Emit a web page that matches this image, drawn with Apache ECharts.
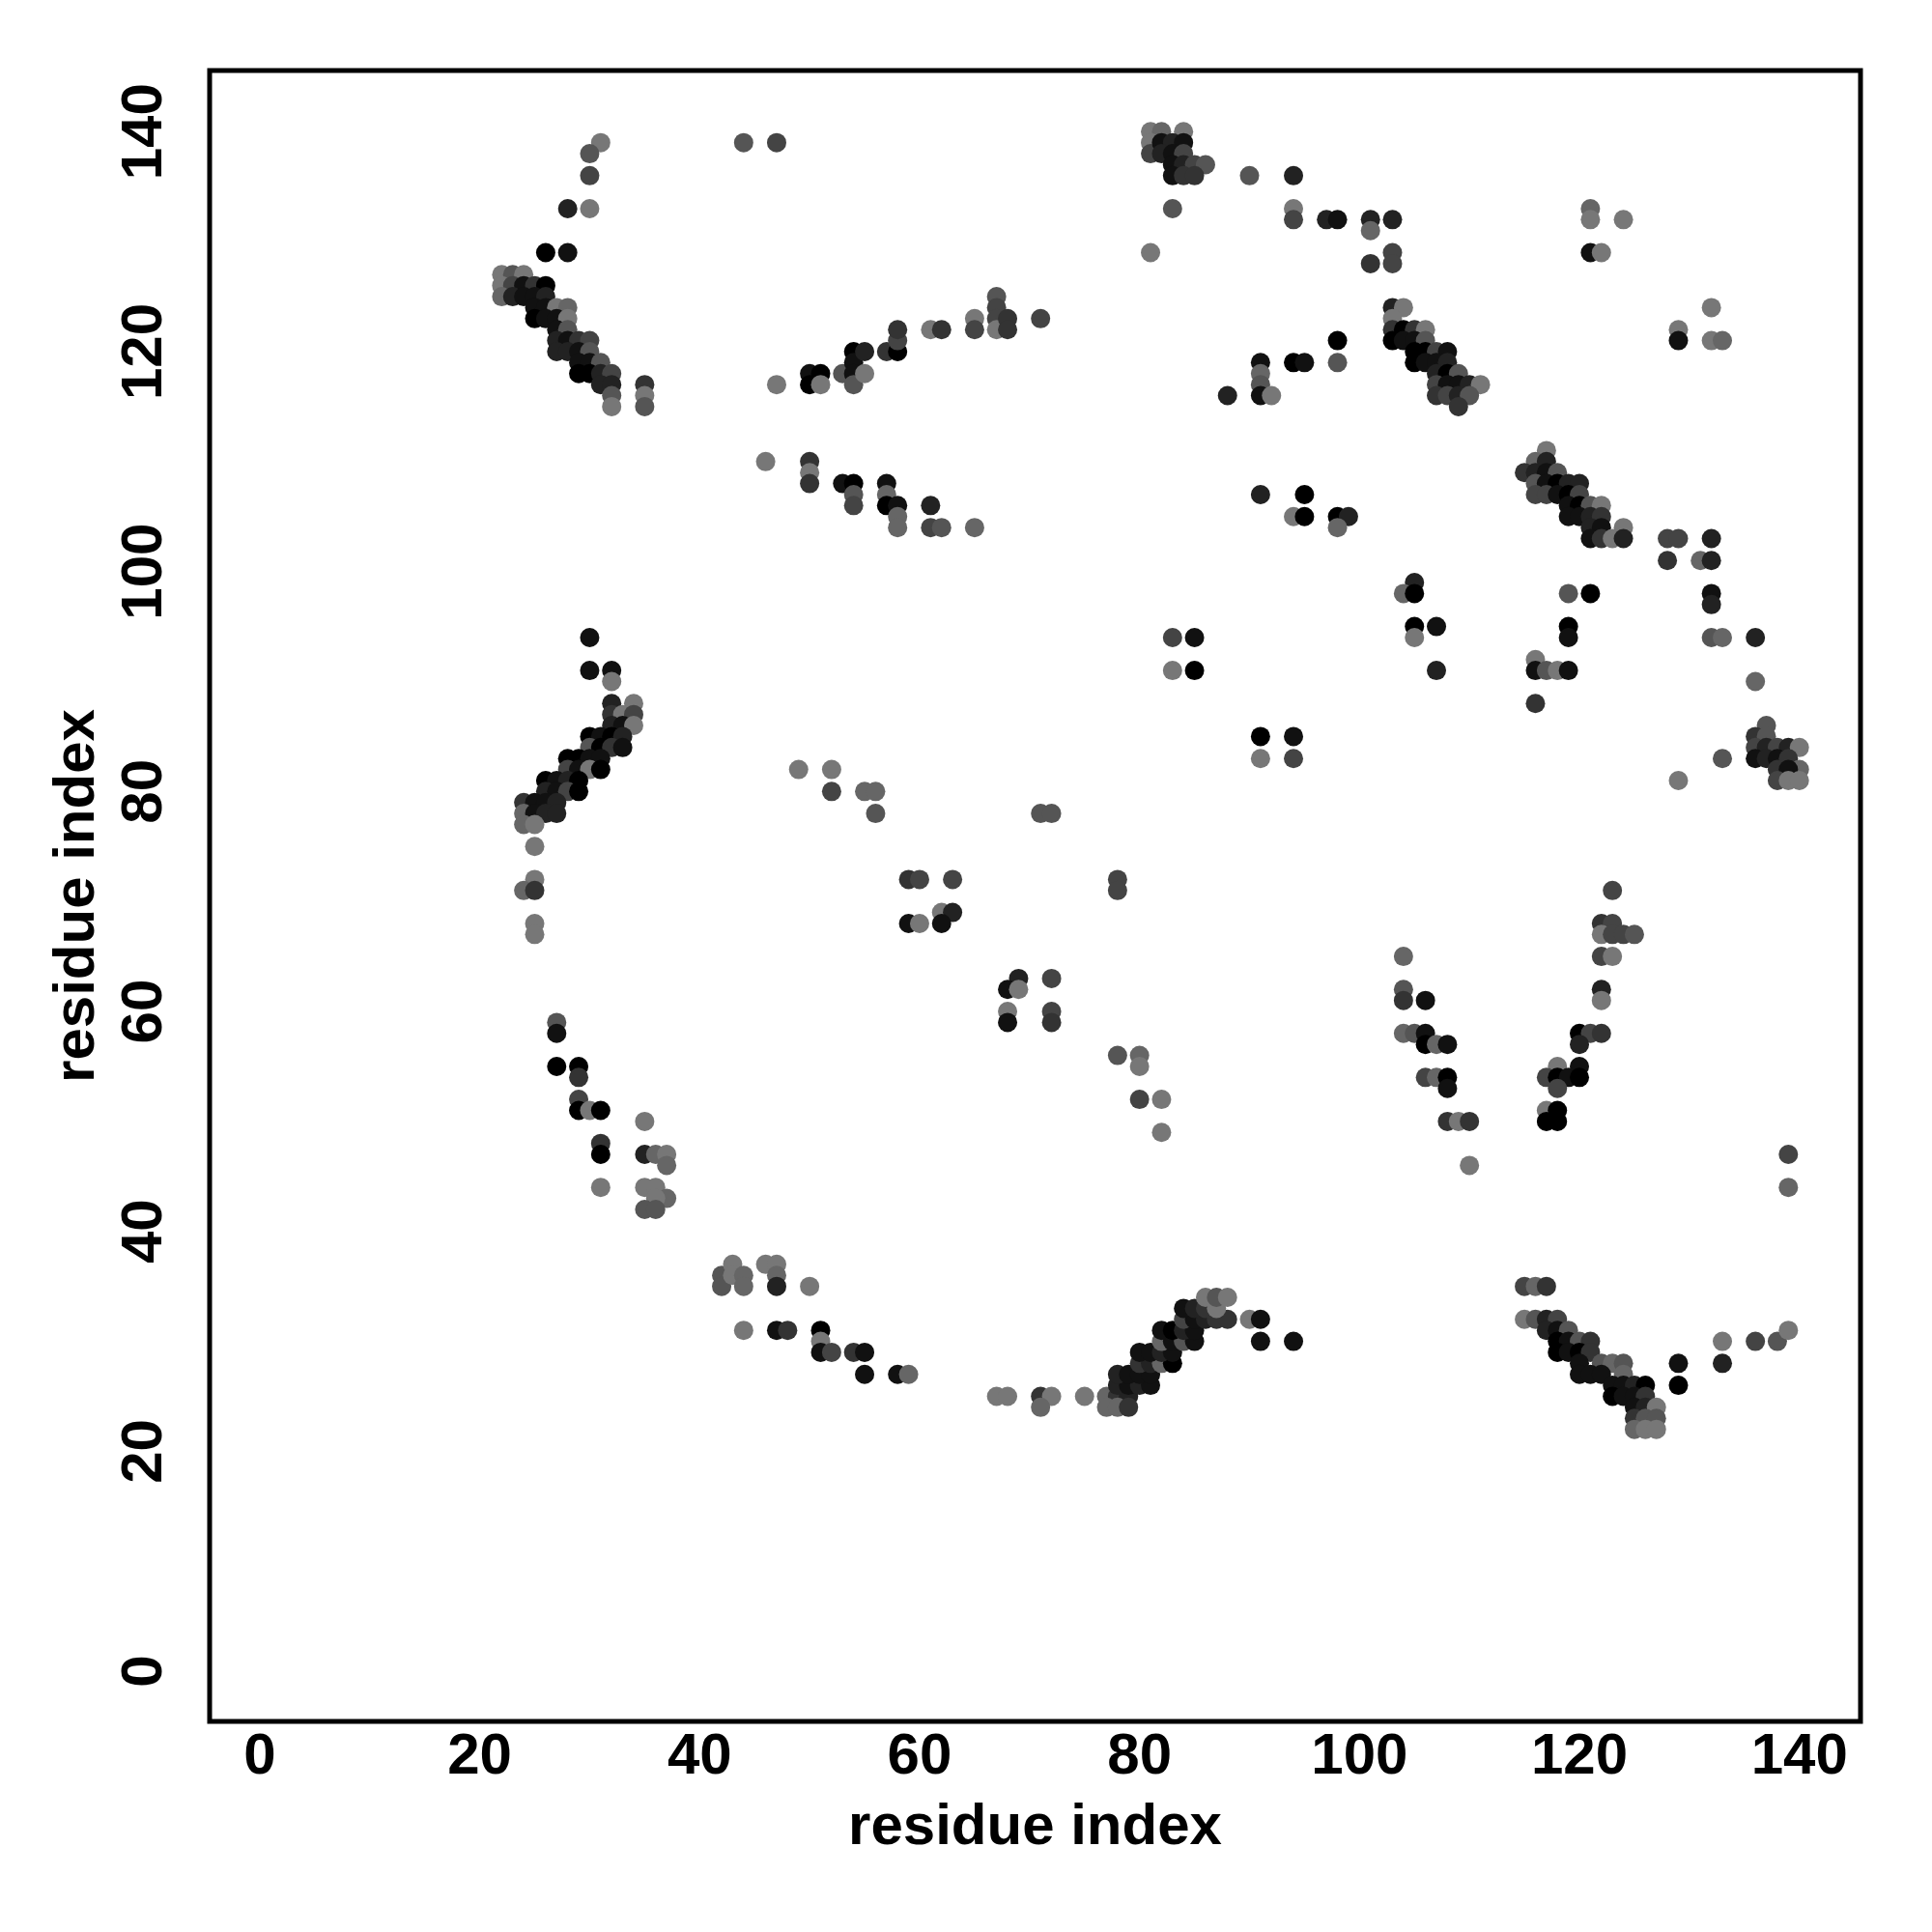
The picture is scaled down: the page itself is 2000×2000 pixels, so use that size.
<!DOCTYPE html>
<html>
<head>
<meta charset="utf-8">
<script src="https://cdn.jsdelivr.net/npm/echarts@6/dist/echarts.min.js"></script>
<style>html,body{margin:0;padding:0;background:#fff}#c{width:2000px;height:2000px}</style>
</head>
<body>
<div id="c"></div>
<script>
// Each contact: [residue i, residue j, grey level 0 (black) .. 7 (light grey)]
const tickValues = [0, 20, 40, 60, 80, 100, 120, 140];

const contactsTopLeft = [
[31,139,7],[30,138,5],[30,136,4],[28,133,2],[30,133,7],[26,129,0],[28,129,1],[44,139,5],[47,139,4],
[22,127,7],[23,127,5],[24,127,7],
[22,126,7],[23,126,4],[24,126,1],[25,126,3],[26,126,0],
[22,125,6],[23,125,2],[24,125,1],[25,125,1],[26,125,2],
[25,124,1],[26,124,1],[27,124,7],[28,124,6],
[25,123,0],[26,123,1],[27,123,1],[28,123,7],
[27,122,1],[28,122,5],
[27,121,2],[28,121,1],[29,121,3],[30,121,4],
[27,120,2],[28,120,2],[29,120,1],[30,120,5],
[29,119,1],[30,119,1],[31,119,5],
[29,118,0],[30,118,0],[31,118,2],[32,118,4],
[31,117,2],[32,117,2],[35,117,3],
[32,116,5],[35,116,7],
[32,115,7],[35,115,5]
];

const contactsTopMiddle = [
[47,117,7],[50,118,1],[50,117,0],[51,118,0],[51,117,7],[53,118,5],[54,120,0],[54,119,1],[54,118,1],[54,117,5],
[55,120,2],[55,118,7],[57,120,3],[58,120,0],[58,121,4],[58,122,3],[61,122,7],[62,122,3],[65,123,7],[65,122,4],
[67,125,5],[67,124,4],[67,123,4],[67,122,7],[68,123,3],[68,122,3],[71,123,4],
[81,140,7],[82,140,6],[84,140,7],[81,139,7],[81,138,4],[82,139,1],[83,139,2],[84,139,1],[82,138,2],[83,138,1],
[84,138,4],[83,137,1],[84,137,2],[85,137,4],[86,137,5],[83,136,1],[84,136,3],[85,136,3],
[90,136,5],[94,136,2],[83,133,5],[81,129,7],[94,133,7],[94,132,4],[97,132,2],[98,132,1],[101,132,2],[101,131,6],
[101,128,3],[103,132,2],[103,129,4],[103,128,4],
[98,121,0],[98,119,5],[91,119,1],[91,118,6],[91,117,5],[91,116,1],[92,116,7],[88,116,2],[94,119,0],[95,119,1]
];

const contactsTopRight = [
[121,133,6],[121,132,7],[124,132,7],[121,129,1],[122,129,7],[132,124,7],[129,122,7],[129,121,1],[132,121,7],[133,121,6],
[103,124,2],[104,124,7],[103,123,7],[103,122,3],[104,122,0],[105,122,3],[106,122,7],[103,121,0],[104,121,1],[105,121,1],
[106,121,5],[105,120,0],[106,120,0],[107,120,4],[108,120,1],[105,119,0],[106,119,1],[107,119,1],[108,119,2],[107,118,2],
[108,118,0],[109,118,5],[107,117,4],[108,117,1],[109,117,1],[110,117,2],[111,117,7],[107,116,3],[108,116,4],[109,116,2],
[110,116,5],[109,115,3]
];

const contactsMiddleLeft = [
[46,110,7],[50,110,3],[50,109,7],[50,108,3],[53,108,1],[54,108,0],[54,107,5],[54,106,4],[57,108,1],[57,107,6],
[57,106,0],[58,106,1],[58,105,6],[58,104,6],[61,106,2],[61,104,4],[62,104,5],[65,104,6],
[30,94,1],[30,91,1],[32,91,1],[32,90,7],
[32,88,2],[34,88,7],[32,87,3],[33,87,7],[34,87,4],[32,86,2],[33,86,1],[34,86,7],[30,85,0],[31,85,1],[32,85,0],[33,85,2],
[30,84,5],[31,84,0],[32,84,3],[33,84,1],[28,83,0],[29,83,0],[30,83,1],[31,83,1],[28,82,4],[29,82,1],[30,82,7],[31,82,0],
[26,81,0],[27,81,1],[28,81,2],[29,81,0],[26,80,2],[27,80,1],[28,80,4],[29,80,0],[24,79,3],[25,79,1],[26,79,1],[27,79,2],
[24,78,6],[25,78,1],[26,78,2],[27,78,2],[24,77,6],[25,77,7],
[49,82,7],[52,82,7],[52,80,4],[55,80,6],[56,80,6],[56,78,5],
[25,75,7],[25,72,7],[24,71,6],[25,71,3],[25,68,7],[25,67,7],
[59,72,3],[60,72,4],[59,68,1],[60,68,7],
[71,78,5],[72,78,5],[63,72,4],[62,69,7],[63,69,2],[62,68,1],[78,72,4],[78,71,4],[69,63,2],[68,62,1],[69,62,7],[72,63,4],
[68,60,7],[68,59,1],[72,60,4],[72,59,3],[78,56,5],[80,56,6],[80,55,7],[80,52,4],[82,52,7],[82,49,7]
];

const contactsMiddleRight = [
[91,107,2],[95,107,0],[94,105,7],[95,105,0],[98,105,0],[99,105,2],[98,104,6],[83,94,4],[85,94,1],[83,91,7],[85,91,0],
[91,85,0],[94,85,1],[91,83,7],[94,83,4],
[117,111,7],[116,110,6],[117,110,2],[115,109,3],[116,109,2],[117,109,1],[118,109,5],[116,108,5],[117,108,1],[118,108,0],
[119,108,2],[120,108,2],[116,107,4],[117,107,4],[118,107,1],[119,107,0],[120,107,4],[119,106,1],[120,106,0],[121,106,5],
[122,106,7],[119,105,1],[120,105,1],[121,105,2],[122,105,3],[121,104,2],[122,104,1],[124,104,7],[121,103,1],[122,103,3],
[123,103,7],[124,103,2],
[128,103,4],[129,103,4],[132,103,2],[128,101,3],[131,101,6],[132,101,2],[132,98,1],[132,97,2],[132,94,5],[133,94,6],
[136,94,2],[136,90,6],[133,83,5],[129,81,7],
[137,86,5],[136,85,3],[137,85,5],[136,84,4],[137,84,2],[138,84,4],[139,84,2],[140,84,7],[136,83,1],[137,83,2],[138,83,1],
[139,83,3],[140,82,6],[138,82,3],[139,82,1],[138,81,4],[139,81,7],[140,81,7],
[105,99,2],[104,98,6],[105,98,0],[105,95,0],[107,95,1],[105,94,7],[107,91,2],[119,98,5],[121,98,0],[119,95,0],[119,94,1],
[116,92,7],[116,91,1],[117,91,5],[118,91,7],[119,91,1],[116,88,3],
[123,71,4],[122,68,3],[123,68,4],[122,67,7],[123,67,4],[124,67,4],[125,67,5],[122,65,4],[123,65,7],[122,62,2],[122,61,7],
[120,58,0],[121,58,4],[122,58,3],[120,57,2],[118,55,7],[120,55,1],[117,54,4],[118,54,0],[119,54,1],[120,54,0],[118,53,4],
[117,51,7],[118,51,0],[117,50,0],[118,50,0],
[104,65,6],[104,62,5],[104,61,3],[106,61,1],[104,58,6],[105,58,5],[106,58,1],[106,57,0],[107,57,6],[108,57,1],[106,54,4],
[107,54,6],[108,54,0],[108,53,1],[108,50,3],[109,50,7],[110,50,3],[110,46,7]
];

const contactsBottomLeft = [
[27,59,5],[27,58,1],[27,55,0],[29,55,0],[29,54,3],[29,52,4],[29,51,0],[30,51,7],[31,51,0],[35,50,7],
[31,48,3],[31,47,0],[31,44,7],[35,47,2],[36,47,6],[37,47,7],[37,46,6],[35,44,7],[36,44,7],[37,43,6],[36,43,7],[35,42,5],[36,42,5],
[42,36,5],[42,35,5],[43,37,7],[43,36,7],[44,36,6],[44,35,6],[46,37,7],[47,37,7],[47,36,6],[47,35,2],[50,35,7],[44,31,7],
[47,31,1],[48,31,3],[51,31,0],[51,30,7],[51,29,1],[52,29,4],[54,29,3],[55,29,1],[55,27,1],[58,27,1],[59,27,6]
];

const contactsBottomMiddle = [
[67,25,7],[68,25,7],[71,25,3],[72,25,7],[71,24,6],[75,25,7],
[77,25,6],[78,25,3],[79,25,2],[77,24,6],[78,24,6],[79,24,3],[78,26,2],[79,26,1],[80,26,2],[81,26,1],[78,27,2],[79,27,1],
[80,27,1],[81,27,1],[80,28,3],[81,28,2],[82,28,6],[83,28,0],[80,29,1],[81,29,1],[82,29,2],[83,29,1],[82,30,6],[83,30,1],
[84,30,5],[85,30,1],[82,31,1],[83,31,0],[84,31,2],[85,31,1],[84,32,4],[85,32,1],[86,32,2],[87,32,3],[88,32,3],[84,33,1],
[85,33,2],[86,33,3],[87,33,7],[86,34,7],[87,34,5],[88,34,7],
[90,32,7],[91,32,1],[91,30,1],[94,30,1]
];

const contactsBottomRight = [
[139,47,4],[139,44,6],[115,35,4],[116,35,6],[117,35,3],[115,32,7],[116,32,5],[117,32,2],[118,32,4],[117,31,2],[118,31,1],
[119,31,5],[118,30,0],[119,30,1],[120,30,5],[121,30,3],[118,29,0],[119,29,1],[120,29,0],[121,29,3],[120,28,1],[122,28,5],
[123,28,6],[124,28,5],[120,27,1],[121,27,1],[122,27,1],[124,27,6],[123,26,1],[124,26,1],[125,26,2],[126,26,0],[123,25,0],
[124,25,1],[125,25,1],[126,25,3],[125,24,1],[126,24,2],[127,24,7],[125,23,3],[126,23,5],[127,23,5],[125,22,6],[126,22,7],
[127,22,7],
[129,28,1],[129,26,0],[133,30,7],[133,28,2],[136,30,4],[138,30,5],[139,31,7]
];

const allContacts = [].concat(contactsTopLeft, contactsTopMiddle, contactsTopRight, contactsMiddleLeft,
  contactsMiddleRight, contactsBottomLeft, contactsBottomMiddle, contactsBottomRight);

function greyOf(level) {
  const v = Math.round(level * 17);
  return 'rgb(' + v + ',' + v + ',' + v + ')';
}

const font = '"Liberation Sans", Arial, Helvetica, sans-serif';
const axisCommon = {
  type: 'value',
  min: -4.56,
  max: 145.56,
  axisLine: { show: false, onZero: false },
  splitLine: { show: false },
  axisTick: { show: false },
  name: 'residue index',
  nameLocation: 'middle',
  nameTextStyle: { fontSize: 60, fontWeight: 'bold', color: '#000', fontFamily: font, align: 'center', verticalAlign: 'middle' }
};

const chart = echarts.init(document.getElementById('c'), null, { renderer: 'canvas' });
chart.setOption({
  animation: false,
  backgroundColor: '#ffffff',
  grid: { left: 217, top: 73, width: 1709, height: 1709, show: true, borderColor: '#000', borderWidth: 5, backgroundColor: 'transparent' },
  xAxis: Object.assign({}, axisCommon, {
    nameGap: 110,
    axisLabel: { customValues: tickValues, margin: 37, fontSize: 60, fontWeight: 'bold', color: '#000', fontFamily: font, verticalAlign: 'middle', align: 'center' }
  }),
  yAxis: Object.assign({}, axisCommon, {
    nameGap: 137,
    nameRotate: 90,
    axisLabel: { customValues: tickValues, margin: 67, rotate: 90, fontSize: 60, fontWeight: 'bold', color: '#000', fontFamily: font, verticalAlign: 'middle', align: 'center' }
  }),
  series: [{
    type: 'scatter',
    symbol: 'circle',
    symbolSize: 20,
    data: allContacts.map(function (c) { return [c[0], c[1], c[2]]; }),
    itemStyle: { opacity: 1, color: function (p) { return greyOf(p.value[2]); } }
  }]
});
</script>
</body>
</html>
